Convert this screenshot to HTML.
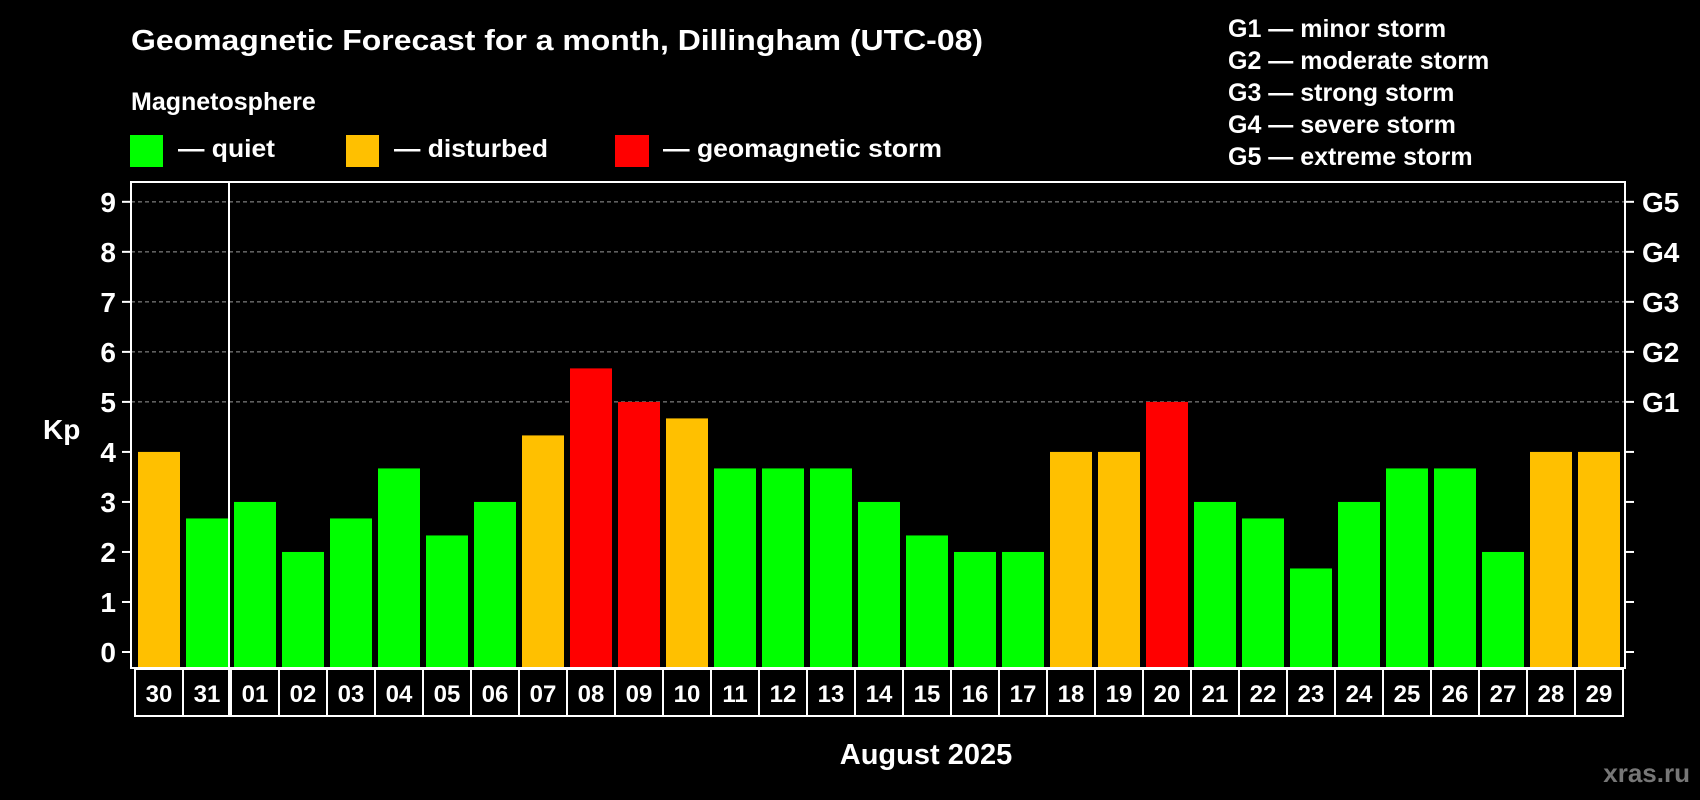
<!DOCTYPE html>
<html><head><meta charset="utf-8"><style>
html,body{margin:0;padding:0;background:#000;}
svg{display:block;font-family:"Liberation Sans",Arial,sans-serif;font-weight:bold;}
</style></head><body>
<svg id="chart" width="1700" height="800" viewBox="0 0 1700 800">
<rect width="1700" height="800" fill="#000"/>
<text x="131" y="50" fill="#fff" font-size="29" textLength="852" lengthAdjust="spacingAndGlyphs">Geomagnetic Forecast for a month, Dillingham (UTC-08)</text>
<text x="131" y="110" fill="#fff" font-size="25">Magnetosphere</text>
<g><rect x="130" y="135" width="33" height="32" fill="#00ff00"/><text x="178" y="157" fill="#fff" font-size="25" textLength="97" lengthAdjust="spacingAndGlyphs">— quiet</text></g>
<g><rect x="346" y="135" width="33" height="32" fill="#ffc000"/><text x="394" y="157" fill="#fff" font-size="25" textLength="154" lengthAdjust="spacingAndGlyphs">— disturbed</text></g>
<g><rect x="615" y="135" width="34" height="32" fill="#ff0000"/><text x="663" y="157" fill="#fff" font-size="25" textLength="279" lengthAdjust="spacingAndGlyphs">— geomagnetic storm</text></g>
<g font-size="25" fill="#fff">
<text x="1228" y="37">G1 — minor storm</text>
<text x="1228" y="69">G2 — moderate storm</text>
<text x="1228" y="101">G3 — strong storm</text>
<text x="1228" y="133">G4 — severe storm</text>
<text x="1228" y="165">G5 — extreme storm</text>
</g>
<text x="43" y="439" fill="#fff" font-size="28">Kp</text>
<text x="926" y="764" fill="#fff" font-size="29" text-anchor="middle">August 2025</text>
<text x="1690" y="782" fill="#777" font-size="26" text-anchor="end">xras.ru</text>
<g id="grid"></g><g id="bars"></g><g id="axes"></g><g id="xlabels"></g>
</svg>
<script>
const days=["30","31","01","02","03","04","05","06","07","08","09","10","11","12","13","14","15","16","17","18","19","20","21","22","23","24","25","26","27","28","29"];
const kp=[4,2.67,3,2,2.67,3.67,2.33,3,4.33,5.67,5,4.67,3.67,3.67,3.67,3,2.33,2,2,4,4,5,3,2.67,1.67,3,3.67,3.67,2,4,4];
const yTicks=[0,1,2,3,4,5,6,7,8,9];
const gLabels=["","","","","","G1","G2","G3","G4","G5"];
const NS="http://www.w3.org/2000/svg";
const L=131,R=1625,T=182,B=668,Y0=652,UNIT=50.02,X0=134,STEP=48,LH=48;
function y(v){return Y0-v*UNIT;}
function x(i){return X0+i*STEP;}
function mk(tag,attrs,parent){const e=document.createElementNS(NS,tag);for(const k in attrs)e.setAttribute(k,attrs[k]);parent.appendChild(e);return e;}
const grid=document.getElementById('grid'),bars=document.getElementById('bars'),axes=document.getElementById('axes'),xl=document.getElementById('xlabels');
yTicks.forEach((v,i)=>{
  if(v>=5){const g=mk('line',{x1:L,x2:R,y1:y(v),y2:y(v),stroke:'#999','stroke-width':1,'stroke-dasharray':'4,3'},grid);
  
  }
  const t1=mk('line',{x1:L-9,x2:L,y1:y(v),y2:y(v),stroke:'#fff','stroke-width':2},axes);
  
  
  const t2=mk('line',{x1:R,x2:R+9,y1:y(v),y2:y(v),stroke:'#fff','stroke-width':2},axes);
  
  
  const lb=mk('text',{x:116,y:y(v)+10,fill:'#fff','font-size':28,'text-anchor':'end'},axes);lb.textContent=v;
  
  
  if(gLabels[i]){const gl=mk('text',{x:1642,y:y(v)+10,fill:'#fff','font-size':28},axes);gl.textContent=gLabels[i];
  
  }
});
kp.forEach((v,i)=>{
  const c=v>=5?'#ff0000':(v>=4?'#ffc000':'#00ff00');
  const b=mk('rect',{x:x(i)+4,y:y(v),width:42,height:B-y(v),fill:c},bars);
  
  
  const cell=mk('rect',{x:x(i)+1,y:B+1,width:STEP,height:LH-1,fill:'none',stroke:'#fff','stroke-width':2},xl);
  
  
  const t=mk('text',{x:x(i)+25,y:B+34,fill:'#fff','font-size':24,'text-anchor':'middle'},xl);t.textContent=days[i];
  
  
});
const fr=mk('rect',{x:L,y:T,width:R-L,height:B-T,fill:'none',stroke:'#fff','stroke-width':2},axes);


const sep=mk('line',{x1:x(2)-1,x2:x(2)-1,y1:T,y2:B+LH,stroke:'#fff','stroke-width':2},axes);


</script>
</body></html>
